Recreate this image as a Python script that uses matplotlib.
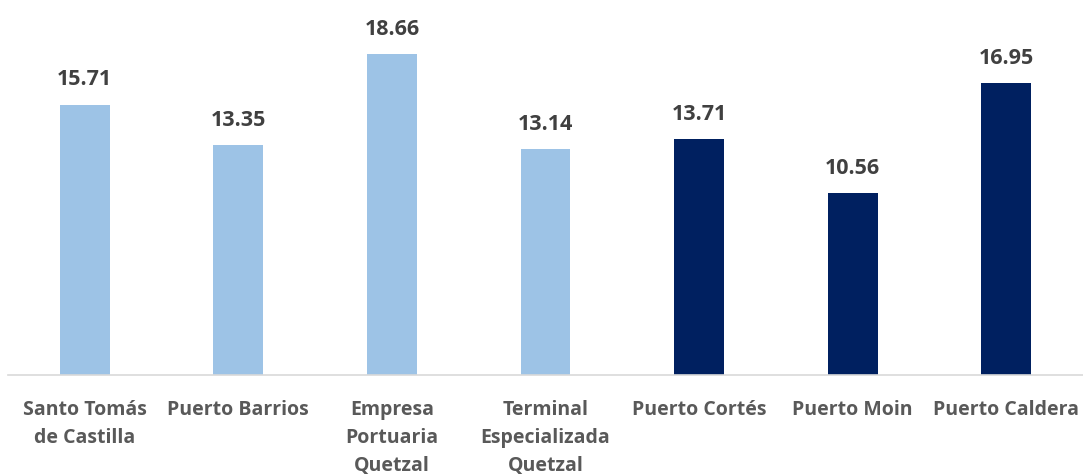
import matplotlib
matplotlib.use("Agg")
import matplotlib.pyplot as plt
import numpy as np

# data
ports = [
    "Santo Tomás\nde Castilla",
    "Puerto Barrios",
    "Empresa\nPortuaria\nQuetzal",
    "Terminal\nEspecializada\nQuetzal",
    "Puerto Cortés",
    "Puerto Moin",
    "Puerto Caldera",
]
values = [15.71, 13.35, 18.66, 13.14, 13.71, 10.56, 16.95]
groups = ["light", "light", "light", "light", "dark", "dark", "dark"]

COLORS = {"light": "#9DC3E6", "dark": "#002060"}

plt.rcParams["font.family"] = ["Open Sans", "DejaVu Sans"]

fig = plt.figure(figsize=(10.83, 4.77), dpi=100)
ax = fig.add_axes([0.0074, 0.2117, 0.9926, 0.7883])

x = np.arange(len(ports))
bars = ax.bar(x, values, width=0.325, color=[COLORS[g] for g in groups])

for xi, v in zip(x, values):
    ax.text(xi, v + 0.9, f"{v:.2f}", ha="center", va="bottom",
            fontsize=15.5, fontweight="bold", color="#404040")

ax.set_xlim(-0.5, 6.5)
ax.set_ylim(0, 21.86)
ax.set_yticks([])
ax.set_xticks(x)
ax.set_xticklabels(ports, fontsize=14, fontweight="bold", color="#595959",
                   linespacing=1.53)
ax.tick_params(axis="x", length=0, pad=17)

for side in ["top", "right", "left"]:
    ax.spines[side].set_visible(False)
ax.spines["bottom"].set_color("#D9D9D9")
ax.spines["bottom"].set_linewidth(1.2)

fig.savefig("out.png", dpi=100)
